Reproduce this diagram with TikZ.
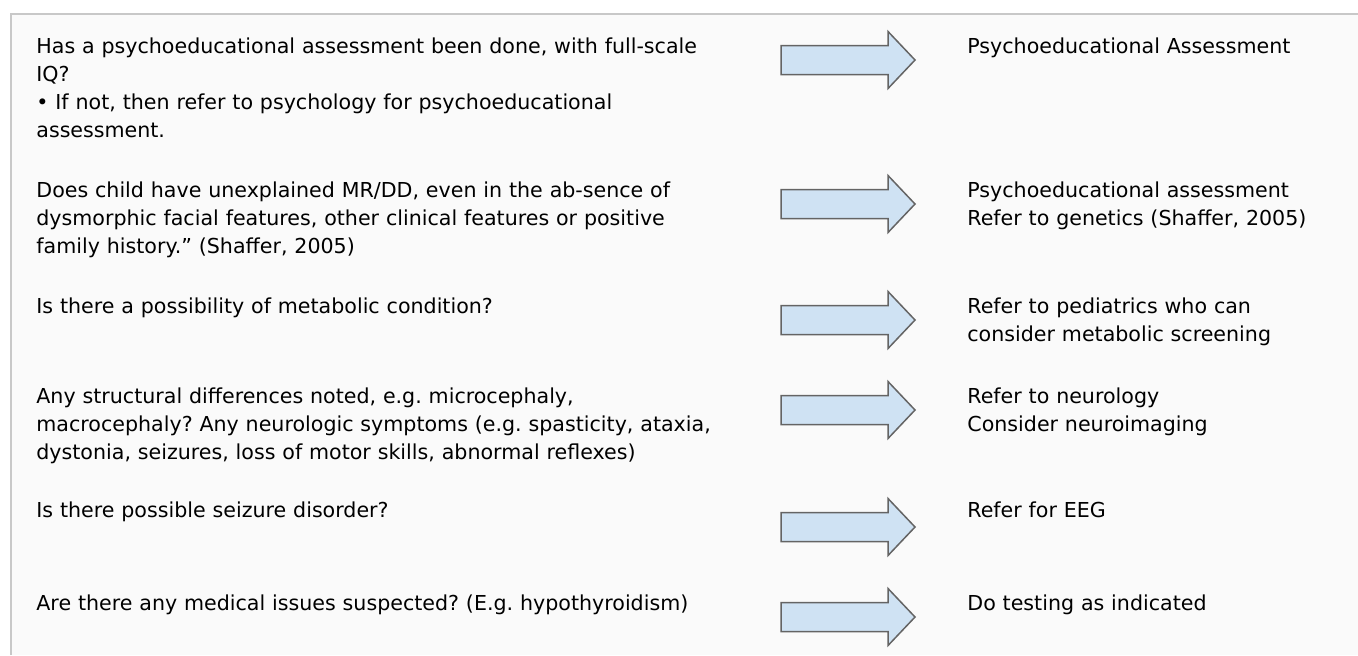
\documentclass[tikz,border=0pt]{standalone}
\usepackage{fontspec}
\setmainfont{DejaVu Sans}
\usepackage{xcolor}
\definecolor{framegray}{RGB}{200,200,200}
\definecolor{panelbg}{RGB}{250,250,250}
\definecolor{arrowblue}{RGB}{207,226,243}
\definecolor{arrowline}{RGB}{100,100,100}
\frenchspacing

\begin{document}
\begin{tikzpicture}[x=0.5pt, y=-0.5pt,
    question/.style={anchor=base west, inner sep=0pt, align=left, text width=370pt,
        font=\fontsize{10.3pt}{14pt}\selectfont},
    answer/.style={question, text width=190pt},
    blockarrow/.style={draw=arrowline, fill=arrowblue, line width=0.75pt, line join=miter}]
    \useasboundingbox (0,0) rectangle (1358,655);
    \fill[panelbg] (10.5,14) rectangle (1358,655);
    \draw[framegray, line width=1pt] (10.5,655) -- (10.5,14) -- (1358,14);

    \foreach \cy [count=\i] in {60,204,320,410,527,617} {
        \coordinate (arr\i) at (848,\cy);
        \draw[blockarrow] (781,\cy-14.5) -- (888,\cy-14.5) -- (888,\cy-28.5) -- (915,\cy)
            -- (888,\cy+28.5) -- (888,\cy+14.5) -- (781,\cy+14.5) -- cycle;
    }

    \node[question] (q1) at (36,53) {Has a psychoeducational assessment been done, with full-scale\\IQ?\\• If not, then refer to psychology for psychoeducational\\assessment.};
    \node[question] (q2) at (36,197) {Does child have unexplained MR/DD, even in the ab-sence of\\dysmorphic facial features, other clinical features or positive\\family history.” (Shaffer, 2005)};
    \node[question] (q3) at (36,313) {Is there a possibility of metabolic condition?};
    \node[question] (q4) at (36,403) {Any structural differences noted, e.g. microcephaly,\\macrocephaly? Any neurologic symptoms (e.g. spasticity, ataxia,\\dystonia, seizures, loss of motor skills, abnormal reflexes)};
    \node[question] (q5) at (36,517) {Is there possible seizure disorder?};
    \node[question] (q6) at (36,610) {Are there any medical issues suspected? (E.g. hypothyroidism)};

    \node[answer] (a1) at (967,53) {Psychoeducational Assessment};
    \node[answer] (a2) at (967,197) {Psychoeducational assessment\\Refer to genetics (Shaffer, 2005)};
    \node[answer] (a3) at (967,313) {Refer to pediatrics who can\\consider metabolic screening};
    \node[answer] (a4) at (967,403) {Refer to neurology\\Consider neuroimaging};
    \node[answer] (a5) at (967,517) {Refer for EEG};
    \node[answer] (a6) at (967,610) {Do testing as indicated};
\end{tikzpicture}
\end{document}
